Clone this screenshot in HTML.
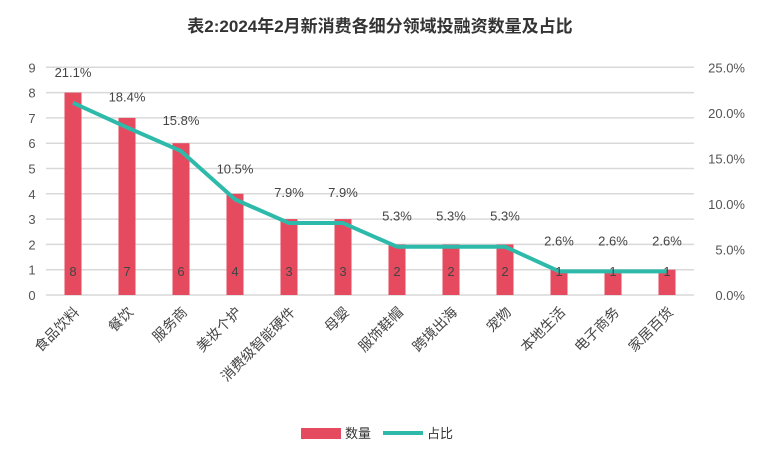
<!DOCTYPE html>
<html><head><meta charset="utf-8"><style>
body{margin:0;background:#fff}
svg text{font-family:"Liberation Sans","Noto Sans CJK SC",sans-serif}
</style></head><body>
<svg id="c" width="760" height="460" xmlns="http://www.w3.org/2000/svg">
<text x="380" y="32" text-anchor="middle" font-size="17" font-weight="bold" fill="#333">表2:2024年2月新消费各细分领域投融资数量及占比</text>
<g id="grid"></g><g id="bars"></g><g id="line"></g><g id="labels"></g>
<g>
<rect x="301" y="428" width="40" height="11" fill="#E64A5E"/>
<text x="345" y="438" font-size="13" fill="#333">数量</text>
<line x1="383" y1="433" x2="423" y2="433" stroke="#2EBAAA" stroke-width="4"/>
<text x="427" y="438" font-size="13" fill="#333">占比</text>
</g>
</svg>
<script>
const categories=["食品饮料","餐饮","服务商","美妆个护","消费级智能硬件","母婴","服饰鞋帽","跨境出海","宠物","本地生活","电子商务","家居百货"];
const counts=[8,7,6,4,3,3,2,2,2,1,1,1];
const shares=[21.1,18.4,15.8,10.5,7.9,7.9,5.3,5.3,5.3,2.6,2.6,2.6];
const leftTicks=[0,1,2,3,4,5,6,7,8,9];
const rightTicks=[0,5,10,15,20,25];
const NS="http://www.w3.org/2000/svg";
const x0=46,x1=694,yb=295,yt=67.3;
const step=(x1-x0)/categories.length;
const xc=i=>x0+step*(i+0.5);
const yL=v=>yb-(yb-yt)*v/9;
const yR=v=>yb-(yb-yt)*v/25;
function mk(tag,attrs,parent,txt){const e=document.createElementNS(NS,tag);for(const k in attrs)e.setAttribute(k,attrs[k]);if(txt!==undefined)e.textContent=txt;document.getElementById(parent).appendChild(e);return e;}
leftTicks.forEach(t=>{
 const l=mk('line',{x1:x0,x2:x1,y1:yL(t),y2:yL(t),stroke:'#d9d9d9','stroke-width':1.5},'grid');
 
 
 const tx=mk('text',{x:32,y:yL(t)+5,'text-anchor':'middle','font-size':13,fill:'#555'},'grid',t);
 
 
});
rightTicks.forEach(t=>{
 const tx=mk('text',{x:745,y:yR(t)+5,'text-anchor':'end','font-size':13,fill:'#555'},'grid',t.toFixed(1)+'%');
 
 
});
counts.forEach((v,i)=>{
 const r=mk('rect',{x:xc(i)-8.5,y:yL(v),width:17,height:yb-yL(v),fill:'#E64A5E'},'bars');
 
 
 const t=mk('text',{x:xc(i),y:276,'text-anchor':'middle','font-size':13,fill:'#444'},'labels',v);
 
 
 const c=mk('text',{x:0,y:0,'text-anchor':'end','font-size':14,fill:'#444',transform:`translate(${xc(i)+7},${313}) rotate(-45)`},'labels',categories[i]);
 
 
});
let d='';
shares.forEach((v,i)=>{d+=(i?'L':'M')+xc(i)+','+yR(v);});
const p=mk('path',{d:d,fill:'none',stroke:'#2EBAAA','stroke-width':4,'stroke-linejoin':'round'},'line');


shares.forEach((v,i)=>{
 const t=mk('text',{x:xc(i),y:yR(v)-26,'text-anchor':'middle','font-size':13,fill:'#444'},'labels',v.toFixed(1)+'%');
 
 
});
</script>
</body></html>
